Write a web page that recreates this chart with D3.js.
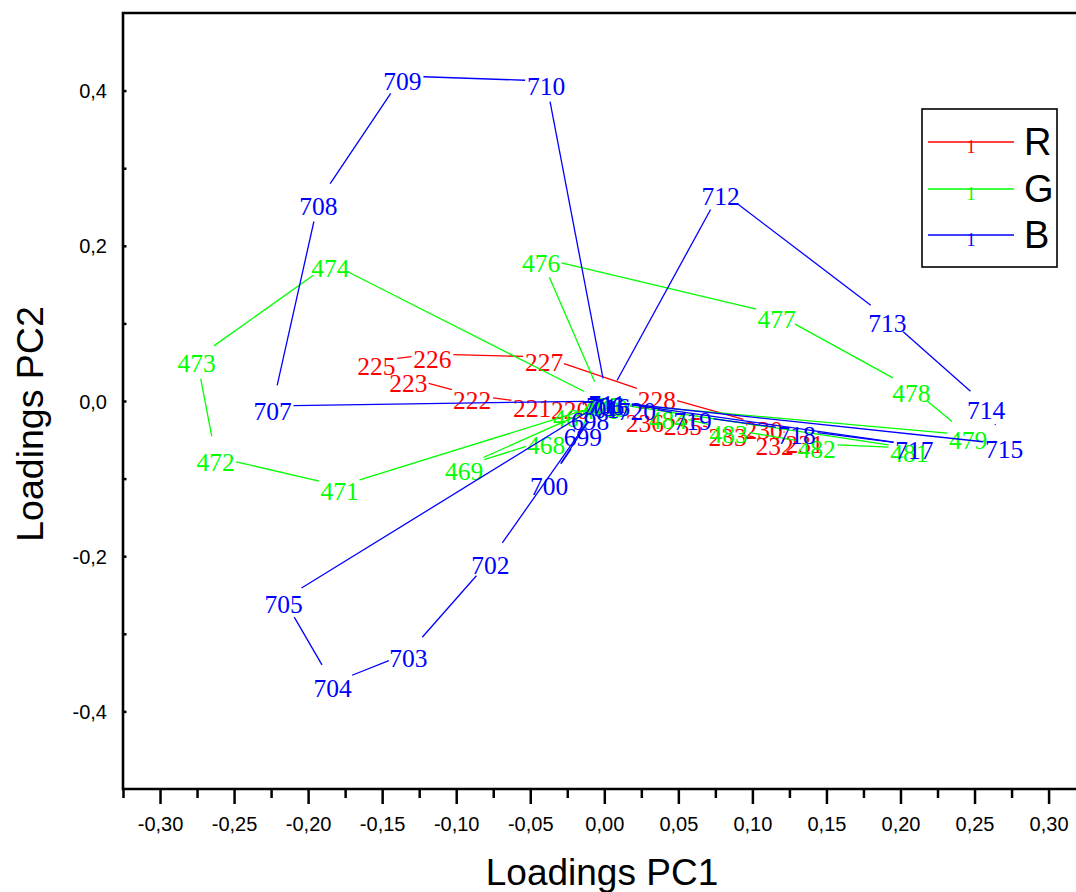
<!DOCTYPE html>
<html>
<head>
<meta charset="utf-8">
<script src="https://cdn.jsdelivr.net/npm/d3@7"></script>
<style>
  html, body { margin: 0; padding: 0; background: #fff; }
  svg { display: block; }
</style>
</head>
<body>
<svg id="chart" width="1076" height="892"></svg>
<script>
// PCA loadings (PC1, PC2) per wavelength, one array set per colour channel.
const redWavelengths = [220, 221, 222, 223, 225, 226, 227, 228, 230, 231, 232, 233, 235, 236];
const redPC1 = [-0.0231, -0.0487, -0.0892, -0.1323, -0.1539, -0.1161, -0.0407, 0.0355, 0.1076, 0.1352, 0.1150, 0.0833, 0.0530, 0.0274];
const redPC2 = [-0.0052, -0.0026, 0.0077, 0.0296, 0.0515, 0.0606, 0.0567, 0.0077, -0.0309, -0.0490, -0.0515, -0.0399, -0.0258, -0.0219];

const greenWavelengths = [467, 468, 469, 470, 471, 472, 473, 474, 475, 476, 477, 478, 479, 480, 481, 482, 483, 484];
const greenPC1 = [-0.0218, -0.0393, -0.0946, -0.0022, -0.1788, -0.2624, -0.2752, -0.1849, -0.0009, -0.0427, 0.1164, 0.2073, 0.2457, 0.0031, 0.2060, 0.1433, 0.0840, 0.0429];
const greenPC2 = [-0.0155, -0.0503, -0.0838, -0.0052, -0.1095, -0.0722, 0.0554, 0.1778, 0.0000, 0.1843, 0.1121, 0.0168, -0.0438, -0.0026, -0.0606, -0.0554, -0.0361, -0.0180];

const blueWavelengths = [698, 699, 700, 701, 702, 703, 704, 705, 706, 707, 708, 709, 710, 711, 712, 713, 714, 715, 716, 717, 718, 719, 720];
const bluePC1 = [-0.0096, -0.0144, -0.0373, -0.0029, -0.0770, -0.1323, -0.1835, -0.2165, 0.0005, -0.2240, -0.1930, -0.1363, -0.0393, 0.0018, 0.0786, 0.1912, 0.2579, 0.2700, 0.0045, 0.2094, 0.1299, 0.0597, 0.0220];
const bluePC2 = [-0.0193, -0.0399, -0.1031, -0.0039, -0.2049, -0.3247, -0.3634, -0.2552, 0.0000, -0.0064, 0.2577, 0.4188, 0.4124, 0.0026, 0.2706, 0.1070, -0.0052, -0.0554, -0.0013, -0.0567, -0.0374, -0.0193, -0.0064];

const seriesNames = ["R", "G", "B"];
const seriesColors = ["#ff0000", "#00ff00", "#0000ff"];

const xTickValues = [-0.30, -0.25, -0.20, -0.15, -0.10, -0.05, 0.00, 0.05, 0.10, 0.15, 0.20, 0.25, 0.30];
const xMinorTickValues = [-0.325, -0.275, -0.225, -0.175, -0.125, -0.075, -0.025, 0.025, 0.075, 0.125, 0.175, 0.225, 0.275, 0.325];
const yTickValues = [-0.4, -0.2, 0.0, 0.2, 0.4];
const yMinorTickValues = [-0.3, -0.1, 0.1, 0.3];

const xTitle = "Loadings PC1";
const yTitle = "Loadings PC2";

// ---- layout ----
const svg = d3.select("#chart");
const x = d3.scaleLinear().domain([-0.325, 0.325]).range([123, 1085.6]);
const y = d3.scaleLinear().domain([-0.5, 0.5]).range([789, 13]);
const sansFont = "'Liberation Sans', Arial, Helvetica, sans-serif";
const serifFont = "'Liberation Serif', 'Times New Roman', Times, serif";
// decimal comma and a plain hyphen for the sign
const commaFormat = digits => v =>
  d3.format(`.${digits}f`)(Math.abs(v) < 1e-9 ? 0 : v).replace("\u2212", "-").replace(".", ",");

svg.append("rect").attr("width", 1076).attr("height", 892).attr("fill", "#fff");

// ---- series: polylines with a gap around every label, then the labels ----
const series = [
  { labels: redWavelengths, pc1: redPC1, pc2: redPC2 },
  { labels: greenWavelengths, pc1: greenPC1, pc2: greenPC2 },
  { labels: blueWavelengths, pc1: bluePC1, pc2: bluePC2 }
];
const gap = 21;

series.forEach((s, si) => {
  const pts = s.labels.map((lab, i) => ({ lab, px: x(s.pc1[i]), py: y(s.pc2[i]) }));
  const segs = [];
  for (let i = 0; i < pts.length - 1; i++) {
    const a = pts[i], b = pts[i + 1];
    const dx = b.px - a.px, dy = b.py - a.py;
    const len = Math.hypot(dx, dy);
    if (len <= 2 * gap) continue;
    const ux = dx / len, uy = dy / len;
    segs.push([a.px + ux * gap, a.py + uy * gap, b.px - ux * gap, b.py - uy * gap]);
  }
  const g = svg.append("g").attr("class", "series-" + seriesNames[si]);
  g.selectAll("line").data(segs).join("line")
    .attr("x1", d => d[0]).attr("y1", d => d[1])
    .attr("x2", d => d[2]).attr("y2", d => d[3])
    .attr("stroke", seriesColors[si]).attr("stroke-width", 1.3);
  g.selectAll("text").data(pts).join("text")
    .attr("x", d => d.px).attr("y", d => d.py)
    .attr("dy", "0.54em")
    .attr("text-anchor", "middle")
    .attr("font-family", serifFont).attr("font-size", 25.5)
    .attr("fill", seriesColors[si])
    .text(d => d.lab);
});

// ---- axes ----
const axisColor = "#000";
const gx = svg.append("g").attr("transform", `translate(0,${y(-0.5)})`);
gx.call(d3.axisBottom(x).tickValues(xTickValues).tickSize(15).tickSizeOuter(0).tickFormat(commaFormat(2)));
gx.select(".domain").remove();
gx.selectAll(".tick line").attr("stroke", axisColor).attr("stroke-width", 2.5);
gx.selectAll(".tick text").attr("y", 41.5).attr("dy", 0)
  .attr("font-family", sansFont).attr("font-size", 20).attr("fill", "#000");
const gxm = svg.append("g").attr("transform", `translate(0,${y(-0.5)})`);
gxm.call(d3.axisBottom(x).tickValues(xMinorTickValues).tickSize(9).tickSizeOuter(0).tickFormat(""));
gxm.select(".domain").remove();
gxm.selectAll(".tick line").attr("stroke", axisColor).attr("stroke-width", 2.5);

const gy = svg.append("g").attr("transform", `translate(${x(-0.325)},0)`);
gy.call(d3.axisLeft(y).tickValues(yTickValues).tickSize(-3.5).tickSizeOuter(0).tickPadding(16).tickFormat(commaFormat(1)));
gy.select(".domain").remove();
gy.selectAll(".tick line").attr("stroke", axisColor).attr("stroke-width", 2.5);
gy.selectAll(".tick text").attr("dy", 7)
  .attr("font-family", sansFont).attr("font-size", 20).attr("fill", "#000");
const gym = svg.append("g").attr("transform", `translate(${x(-0.325)},0)`);
gym.call(d3.axisLeft(y).tickValues(yMinorTickValues).tickSize(-3.5).tickSizeOuter(0).tickFormat(""));
gym.select(".domain").remove();
gym.selectAll(".tick line").attr("stroke", axisColor).attr("stroke-width", 2.5);

// frame: left, bottom and top edges of the plot area
const [x0, x1] = x.range();
const [yb, yt] = y.range();
svg.append("path")
  .attr("d", `M${x1},${yt}H${x0}V${yb}H${x1}`)
  .attr("fill", "none").attr("stroke", axisColor).attr("stroke-width", 2.6);

// axis titles
svg.append("text").attr("x", 602).attr("y", 885).attr("text-anchor", "middle")
  .attr("font-family", sansFont).attr("font-size", 37).attr("fill", "#000").text(xTitle);
svg.append("text").attr("transform", "translate(43,424) rotate(-90)").attr("text-anchor", "middle")
  .attr("font-family", sansFont).attr("font-size", 37.5).attr("fill", "#000").text(yTitle);

// ---- legend ----
const legend = svg.append("g");
legend.append("rect").attr("x", 922).attr("y", 109).attr("width", 135).attr("height", 158)
  .attr("fill", "#fff").attr("stroke", "#000").attr("stroke-width", 1.6);
const legendRows = [142, 189, 235];
seriesNames.forEach((name, i) => {
  const ly = legendRows[i];
  legend.append("line").attr("x1", 928).attr("x2", 1014).attr("y1", ly).attr("y2", ly)
    .attr("stroke", seriesColors[i]).attr("stroke-width", 1.6);
  legend.append("text").attr("x", 971).attr("y", ly).attr("dy", 11).attr("text-anchor", "middle")
    .attr("font-family", serifFont).attr("font-size", 18).attr("fill", seriesColors[i]).text("1");
  legend.append("text").attr("x", 1024).attr("y", ly).attr("dy", 13)
    .attr("font-family", sansFont).attr("font-size", 38).attr("fill", "#000").text(name);
});
</script>
</body>
</html>
